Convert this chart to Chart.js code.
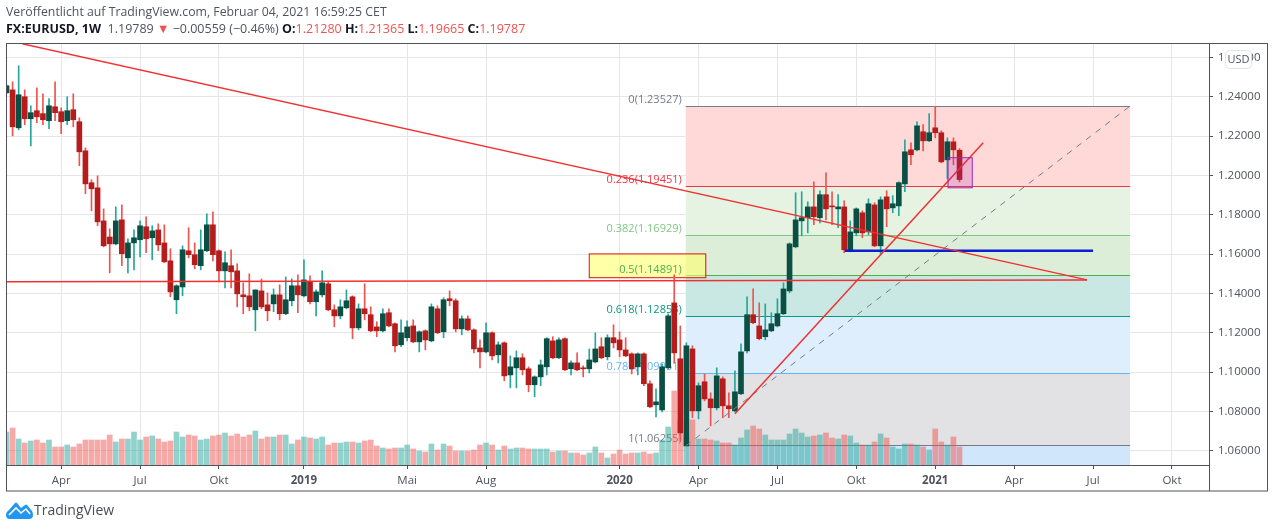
<!DOCTYPE html>
<html lang="de">
<head>
<meta charset="utf-8">
<title>FX:EURUSD, 1W</title>
<script src="https://cdn.jsdelivr.net/npm/chart.js@4"></script>
<style>
  html, body { margin: 0; padding: 0; background: #fff; overflow: hidden; }
  body { width: 1274px; height: 529px; position: relative; font-family: "Open Sans", sans-serif; }
  #chart { position: absolute; left: 0; top: 0; }
  .head { position: absolute; left: 6px; white-space: nowrap; font-size: 12.5px; color: #50535e; line-height: 16px; }
  #line1 { top: 4px; font-size: 12.3px; }
  #line2 { top: 21px; }
  #line2 b { color: #131722; font-weight: 700; }
  #line2 .dn { color: #ef5350; }
  #brand { position: absolute; left: 34px; top: 501px; font-size: 14px; color: #4a4d57; line-height: 18px; }
  #logo { position: absolute; left: 6px; top: 502px; }
</style>
</head>
<body>
<canvas id="chart" width="1274" height="529"></canvas>
<div class="head" id="line1">Veröffentlicht auf TradingView.com, Februar 04, 2021 16:59:25 CET</div>
<div class="head" id="line2"><b>FX:EURUSD, 1W</b>&nbsp; 1.19789 <span class="dn">▼</span> −0.00559 (−0.46%) <b>O:</b><span class="dn">1.21280</span> <b>H:</b><span class="dn">1.21365</span> <b>L:</b><span class="dn">1.19665</span> <b>C:</b><span class="dn">1.19787</span></div>
<svg id="logo" width="27" height="17" viewBox="0 0 27 17"><path d="M0 13 C0 10 2 9 3 8 L9 1 Q10 0 11 1 L15 6 L19 3 Q20 2 21 3 L26 9 Q27 11 27 13 Q27 17 23 17 L4 17 Q0 17 0 13 Z" fill="#2196f3"/><path d="M3 13 L10 6 L15 11 L20 7 L24 12" fill="none" stroke="#fff" stroke-width="1.6"/></svg>
<div id="brand">TradingView</div>
<script>
const opens = [
  1.2420,1.2435,1.2242,1.2400,1.2288,1.2329,1.2314,1.2278,1.2349,1.2324,
  1.2278,1.2334,1.2273,1.2125,1.1963,1.1937,1.1769,1.1687,1.1652,1.1774,
  1.1581,1.1657,1.1673,1.1739,1.1683,1.1723,1.1657,1.1566,1.1368,1.1433,
  1.1617,1.1597,1.1541,1.1617,1.1749,1.1617,1.1515,1.1541,1.1515,1.1393,
  1.1388,1.1317,1.1413,1.1342,1.1347,1.1393,1.1297,1.1363,1.1439,1.1388,
  1.1459,1.1358,1.1393,1.1449,1.1317,1.1286,1.1327,1.1383,1.1225,1.1322,
  1.1292,1.1230,1.1210,1.1302,1.1246,1.1139,1.1175,1.1235,1.1154,1.1210,
  1.1159,1.1322,1.1205,1.1373,1.1363,1.1220,1.1271,1.1215,1.1123,1.1103,
  1.1200,1.1088,1.1149,1.0986,1.1022,1.1073,1.1017,1.0936,1.0976,1.1027,
  1.1159,1.1073,1.1170,1.1017,1.1047,1.1022,1.1017,1.1052,1.1129,1.1078,
  1.1175,1.1164,1.1113,1.1093,1.1027,1.1093,1.0941,1.0834,1.0808,1.1022,
  1.1352,1.1068,1.0625,1.1118,1.0803,1.0951,1.0864,1.0819,1.0966,1.0829,
  1.0803,1.0890,1.1108,1.1292,1.1235,1.1180,1.1210,1.1235,1.1297,1.1413,
  1.1637,1.1769,1.1785,1.1840,1.1785,1.1902,1.1845,1.1830,1.1840,1.1617,
  1.1708,1.1810,1.1713,1.1850,1.1642,1.1891,1.1835,1.1845,1.1957,1.2130,
  1.2130,1.2222,1.2176,1.2242,1.2217,1.2079,1.2171,1.2128
];
const highs = [
  1.2461,1.2476,1.2557,1.2435,1.2354,1.2445,1.2415,1.2390,1.2476,1.2344,
  1.2400,1.2415,1.2293,1.2140,1.1978,1.1998,1.1830,1.1729,1.1840,1.1850,
  1.1678,1.1723,1.1769,1.1790,1.1744,1.1754,1.1749,1.1627,1.1444,1.1642,
  1.1734,1.1657,1.1723,1.1805,1.1815,1.1622,1.1612,1.1622,1.1551,1.1454,
  1.1500,1.1418,1.1474,1.1403,1.1423,1.1444,1.1484,1.1474,1.1495,1.1571,
  1.1490,1.1418,1.1515,1.1459,1.1342,1.1368,1.1418,1.1388,1.1347,1.1449,
  1.1332,1.1256,1.1322,1.1322,1.1251,1.1266,1.1261,1.1266,1.1210,1.1215,
  1.1347,1.1337,1.1378,1.1413,1.1373,1.1286,1.1286,1.1220,1.1164,1.1251,
  1.1205,1.1154,1.1154,1.1083,1.1108,1.1093,1.1027,1.0981,1.1062,1.1175,
  1.1180,1.1175,1.1175,1.1057,1.1098,1.1032,1.1118,1.1200,1.1175,1.1190,
  1.1241,1.1205,1.1175,1.1098,1.1098,1.1098,1.0956,1.0915,1.1042,1.1297,
  1.1495,1.1235,1.1149,1.1134,1.0946,1.0991,1.0895,1.1022,1.0976,1.0895,
  1.1007,1.1144,1.1383,1.1423,1.1352,1.1347,1.1302,1.1373,1.1454,1.1657,
  1.1912,1.1917,1.1866,1.1968,1.1922,1.2013,1.1917,1.1902,1.1871,1.1769,
  1.1835,1.1820,1.1881,1.1861,1.1891,1.1922,1.1897,1.1968,1.2181,1.2166,
  1.2273,1.2258,1.2314,1.2349,1.2227,1.2191,1.2191,1.2137
];
const lows = [
  1.2415,1.2201,1.2232,1.2258,1.2150,1.2268,1.2258,1.2237,1.2278,1.2212,
  1.2258,1.2247,1.2049,1.1907,1.1820,1.1744,1.1637,1.1505,1.1647,1.1541,
  1.1505,1.1520,1.1586,1.1607,1.1571,1.1617,1.1556,1.1383,1.1297,1.1388,
  1.1581,1.1525,1.1520,1.1612,1.1566,1.1459,1.1428,1.1428,1.1332,1.1297,
  1.1312,1.1210,1.1322,1.1261,1.1307,1.1266,1.1292,1.1337,1.1302,1.1383,
  1.1347,1.1286,1.1383,1.1312,1.1230,1.1271,1.1322,1.1170,1.1215,1.1266,
  1.1205,1.1180,1.1205,1.1230,1.1103,1.1129,1.1159,1.1149,1.1103,1.1113,
  1.1154,1.1195,1.1175,1.1337,1.1205,1.1190,1.1210,1.1098,1.1022,1.1098,
  1.1062,1.1047,1.0956,1.0920,1.0920,1.0986,1.0900,1.0875,1.0931,1.0986,
  1.1068,1.1068,1.1007,1.0986,1.1007,1.0976,1.0996,1.1047,1.1068,1.1062,
  1.1123,1.1078,1.1078,1.0991,1.0986,1.0931,1.0819,1.0773,1.0798,1.1017,
  1.1047,1.0651,1.0625,1.0768,1.0763,1.0854,1.0727,1.0808,1.0768,1.0768,
  1.0798,1.0885,1.1098,1.1246,1.1164,1.1164,1.1205,1.1230,1.1292,1.1403,
  1.1632,1.1693,1.1708,1.1749,1.1759,1.1774,1.1749,1.1734,1.1607,1.1612,
  1.1693,1.1683,1.1698,1.1637,1.1597,1.1739,1.1810,1.1795,1.1917,1.2054,
  1.2125,1.2125,1.2171,1.2191,1.2064,1.1983,1.2054,1.1967
];
const closes = [
  1.2456,1.2247,1.2410,1.2288,1.2319,1.2298,1.2283,1.2354,1.2319,1.2273,
  1.2329,1.2283,1.2120,1.1957,1.1932,1.1764,1.1642,1.1652,1.1769,1.1602,
  1.1657,1.1683,1.1744,1.1678,1.1718,1.1647,1.1561,1.1408,1.1439,1.1622,
  1.1597,1.1546,1.1622,1.1749,1.1597,1.1515,1.1556,1.1510,1.1398,1.1383,
  1.1332,1.1418,1.1332,1.1312,1.1393,1.1297,1.1368,1.1439,1.1393,1.1469,
  1.1358,1.1408,1.1454,1.1317,1.1286,1.1332,1.1363,1.1225,1.1322,1.1297,
  1.1210,1.1210,1.1297,1.1235,1.1134,1.1200,1.1230,1.1154,1.1205,1.1164,
  1.1332,1.1200,1.1368,1.1363,1.1220,1.1271,1.1215,1.1118,1.1103,1.1200,
  1.1083,1.1139,1.0981,1.1027,1.1073,1.1012,1.0936,1.0976,1.1037,1.1170,
  1.1073,1.1164,1.1012,1.1047,1.1012,1.1017,1.1062,1.1118,1.1073,1.1175,
  1.1149,1.1113,1.1083,1.1017,1.1093,1.0941,1.0824,1.0849,1.1027,1.1286,
  1.1098,1.0691,1.1134,1.0803,1.0931,1.0864,1.0819,1.0981,1.0829,1.0814,
  1.0900,1.1103,1.1292,1.1251,1.1170,1.1215,1.1246,1.1297,1.1423,1.1652,
  1.1774,1.1785,1.1840,1.1790,1.1902,1.1830,1.1840,1.1840,1.1622,1.1713,
  1.1830,1.1708,1.1856,1.1642,1.1876,1.1830,1.1856,1.1963,1.2120,1.2105,
  1.2252,1.2176,1.2217,1.2217,1.2069,1.2171,1.2130,1.1979
];
const volumes = [
  33,37,26,22,24,25,22,25,18,18,
  20,18,21,25,25,25,25,30,23,26,
  26,33,25,28,29,26,23,24,33,28,
  30,29,25,26,29,30,32,29,31,28,
  30,34,26,28,28,30,30,21,25,28,
  27,26,28,20,22,22,23,23,22,24,
  25,19,17,16,17,17,20,16,14,13,
  21,15,21,19,14,14,14,15,20,22,
  20,15,19,16,17,17,16,16,16,16,
  13,14,14,12,12,10,12,18,12,7,
  11,15,11,12,12,13,11,12,25,38,
  74,44,30,45,26,26,25,24,22,22,
  20,27,35,39,36,30,25,25,25,31,
  36,32,28,29,30,32,27,26,30,29,
  22,20,20,23,31,27,18,16,21,21,
  20,18,15,36,23,20,28,18
];

// week index of each time label
const tickWeeks = [9, 22, 35, 49, 66, 79, 101, 114, 127, 140, 153, 166, 179, 192];
const tickLabels = ['Apr', 'Jul', 'Okt', '2019', 'Mai', 'Aug', '2020', 'Apr', 'Jul', 'Okt', '2021', 'Apr', 'Jul', 'Okt'];
const yearTicks = ['2019', '2020', '2021'];

// fib retracement
const fibRatios = ['0', '0.236', '0.382', '0.5', '0.618', '0.786', '1'];
const fibPrices = [1.23527, 1.19451, 1.16929, 1.14891, 1.12853, 1.09951, 1.06255];
const fibLineColors = ['#787b86', '#f23645', '#81c784', '#4caf50', '#089981', '#64b5f6', '#787b86'];
const fibBandColors = ['#ffd8d8', '#e6f3e2', '#dcedd8', '#c9e8e3', '#deeefc', '#e2e2e5', '#d0e6fb'];
const fibWeeks = [111.9, 185.1];

// drawings
const downLineX = [2.6, 178];
const downLineY = [1.2669, 1.1469];
const flatLineX = [0, 178];
const flatLineY = [1.1459, 1.1469];
const upLineX = [120, 160.9];
const upLineY = [1.0788, 1.2166];
const blueLineX = [138.1, 179];
const blueLineY = [1.1617, 1.1617];
const purpleBoxX = [155.1, 159.1];
const purpleBoxY = [1.2090, 1.1937];
const yellowBoxX = [96, 115.2];
const yellowBoxY = [1.1601, 1.1480];

const UP_BODY = '#0a4f43', UP_WICK = '#26a69a', DN_BODY = '#b71c1c', DN_WICK = '#ef5350';
const isUp = closes.map((c, i) => c >= opens[i]);
const weeks = closes.map((c, i) => i);

function seg(xs, ys) {
  return xs.map((x, i) => ({ x, y: ys[i] }));
}

function lineSet(xs, ys, color, width, dash) {
  return { type: 'line', data: seg(xs, ys), borderColor: color, borderWidth: width, borderDash: dash || [], pointRadius: 0, order: 1, yAxisID: 'y' };
}

const drawings = {
  id: 'drawings',
  beforeDatasetsDraw(chart) {
    const { ctx, scales: { x, y }, chartArea: a } = chart;
    const x0 = x.getPixelForValue(fibWeeks[0]), x1 = x.getPixelForValue(fibWeeks[1]);
    ctx.save();
    // bands, the last one runs down to the pane bottom
    fibBandColors.forEach((col, i) => {
      const top = Math.floor(y.getPixelForValue(fibPrices[i]));
      const bot = i < fibPrices.length - 1 ? Math.floor(y.getPixelForValue(fibPrices[i + 1])) : a.bottom;
      ctx.fillStyle = col;
      ctx.fillRect(x0, top, x1 - x0, bot - top);
    });
    fibPrices.forEach((p, i) => {
      const py = Math.floor(y.getPixelForValue(p)) + 0.5;
      ctx.strokeStyle = fibLineColors[i];
      ctx.lineWidth = 1;
      ctx.beginPath(); ctx.moveTo(x0, py); ctx.lineTo(x1, py); ctx.stroke();
    });
    // yellow note box
    const bx = x.getPixelForValue(yellowBoxX[0]), bw = x.getPixelForValue(yellowBoxX[1]) - bx;
    const by = y.getPixelForValue(yellowBoxY[0]), bh = y.getPixelForValue(yellowBoxY[1]) - by;
    ctx.fillStyle = 'rgba(255,255,110,0.6)';
    ctx.fillRect(bx, by, bw, bh);
    ctx.strokeStyle = '#d81010';
    ctx.strokeRect(bx, by, bw, bh);
    // labels sit under the candles
    ctx.font = '11px "Open Sans", sans-serif';
    ctx.textAlign = 'right';
    ctx.textBaseline = 'bottom';
    fibPrices.forEach((p, i) => {
      ctx.fillStyle = fibLineColors[i];
      ctx.fillText(fibRatios[i] + '(' + p.toFixed(5) + ')', x0 - 4, y.getPixelForValue(p) - 1);
    });
    ctx.restore();
  },
  afterDatasetsDraw(chart) {
    const { ctx, scales: { x, y } } = chart;
    const bx = x.getPixelForValue(purpleBoxX[0]), bw = x.getPixelForValue(purpleBoxX[1]) - bx;
    const by = y.getPixelForValue(purpleBoxY[0]), bh = y.getPixelForValue(purpleBoxY[1]) - by;
    ctx.save();
    ctx.fillStyle = 'rgba(156,39,176,0.2)';
    ctx.fillRect(bx, by, bw, bh);
    ctx.strokeStyle = '#9c27b0';
    ctx.strokeRect(bx, by, bw, bh);
    ctx.restore();
  },
  afterDraw(chart) {
    const { ctx, chartArea: a } = chart;
    ctx.save();
    // outer frame and pane separators
    ctx.strokeStyle = '#50535e';
    ctx.lineWidth = 1;
    ctx.strokeRect(a.left - 0.5, a.top - 0.5, 1268 - a.left, 491 - a.top + 0.5);
    ctx.beginPath();
    ctx.moveTo(a.left, a.bottom + 0.5); ctx.lineTo(a.right, a.bottom + 0.5);
    ctx.moveTo(a.right + 0.5, a.top); ctx.lineTo(a.right + 0.5, 491);
    ctx.stroke();
    // currency badge
    ctx.beginPath();
    ctx.roundRect(1225.5, 50.5, 26, 18, 4);
    ctx.fillStyle = '#fff';
    ctx.fill();
    ctx.strokeStyle = '#e0e3eb';
    ctx.stroke();
    ctx.fillStyle = '#50535e';
    ctx.font = '11px "Open Sans", sans-serif';
    ctx.textAlign = 'center';
    ctx.textBaseline = 'middle';
    ctx.fillText('USD', 1238.5, 60);
    ctx.restore();
  }
};

new Chart(document.getElementById('chart'), {
  type: 'bar',
  plugins: [drawings],
  data: {
    datasets: [
      lineSet(downLineX, downLineY, '#f23030', 1.5),
      lineSet(flatLineX, flatLineY, '#f23030', 1.5),
      lineSet(upLineX, upLineY, '#f23030', 1.5),
      lineSet(blueLineX, blueLineY, '#0a1fd0', 2.5),
      lineSet(fibWeeks, [fibPrices[6], fibPrices[0]], '#787b86', 1, [6, 6]),
      {
        data: weeks.map(i => ({ x: i, y: [opens[i], closes[i]] })),
        backgroundColor: isUp.map(u => u ? UP_BODY : DN_BODY),
        barThickness: 5, minBarLength: 1, grouped: false, order: 2, yAxisID: 'y'
      },
      {
        data: weeks.map(i => ({ x: i, y: [lows[i], highs[i]] })),
        backgroundColor: isUp.map(u => u ? UP_WICK : DN_WICK),
        barThickness: 1, grouped: false, order: 3, yAxisID: 'y'
      },
      {
        data: weeks.map(i => ({ x: i, y: volumes[i] })),
        backgroundColor: isUp.map(u => u ? 'rgba(38,166,154,0.5)' : 'rgba(239,83,80,0.5)'),
        barThickness: 5, grouped: false, order: 4, yAxisID: 'vol'
      }
    ]
  },
  options: {
    responsive: false,
    animation: false,
    layout: { padding: { left: 7, top: 44, right: 6, bottom: 38 } },
    plugins: { legend: { display: false }, tooltip: { enabled: false } },
    scales: {
      x: {
        type: 'linear',
        offset: false,
        min: 0.08,
        max: 198.1,
        afterBuildTicks: s => { s.ticks = tickWeeks.map(v => ({ value: v })); },
        afterFit: s => { s.height = 26; },
        grid: { offset: false, color: '#e6e6e6', tickColor: '#50535e', tickLength: 4 },
        border: { display: false },
        ticks: {
          autoSkip: false, maxRotation: 0, color: '#50535e', padding: 5,
          callback: v => tickLabels[tickWeeks.indexOf(v)],
          font: c => ({
            family: '"Open Sans", sans-serif', size: 11.5,
            weight: c.tick && yearTicks.includes(tickLabels[tickWeeks.indexOf(c.tick.value)]) ? 'bold' : 'normal'
          })
        }
      },
      y: {
        position: 'right',
        min: 1.0528,
        max: 1.2668,
        afterFit: s => { s.width = 59; },
        afterBuildTicks: s => {
          s.ticks = [1.06, 1.08, 1.10, 1.12, 1.14, 1.16, 1.18, 1.20, 1.22, 1.24, 1.26].map(v => ({ value: v }));
        },
        grid: { color: '#e6e6e6', tickColor: '#50535e', tickLength: 4 },
        border: { display: false },
        ticks: {
          color: '#50535e', padding: 5,
          font: { family: '"Open Sans", sans-serif', size: 11.5 },
          callback: v => v.toFixed(5)
        }
      },
      vol: { display: false, min: 0, max: 421 }
    }
  }
});
</script>
</body>
</html>
